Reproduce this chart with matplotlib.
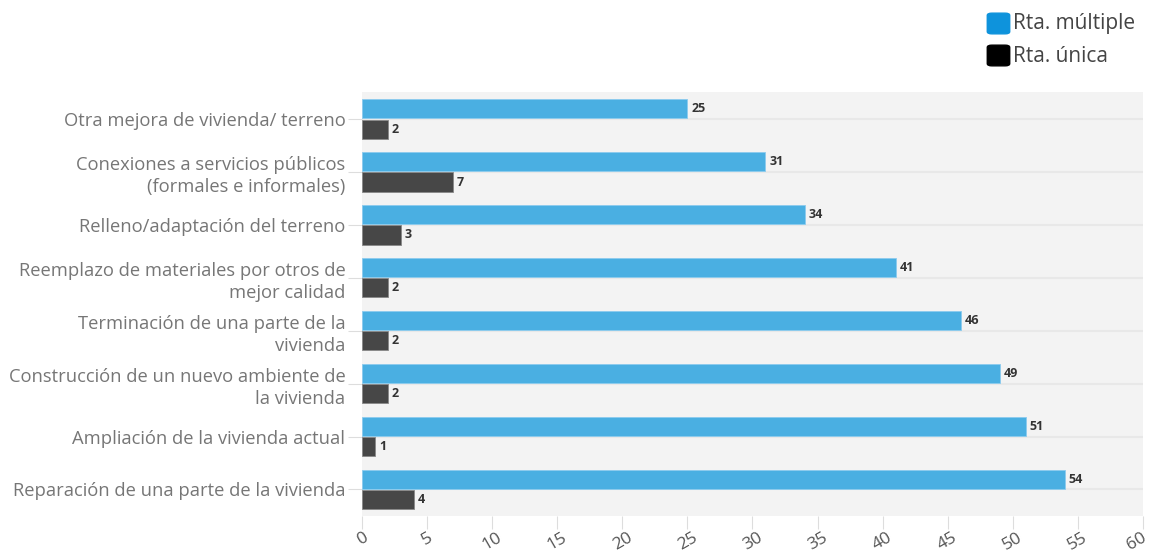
import matplotlib.pyplot as plt
import matplotlib.transforms as mtransforms
import numpy as np
from matplotlib.patches import FancyBboxPatch

categorias = [
    "Otra mejora de vivienda/ terreno",
    "Conexiones a servicios públicos\n(formales e informales)",
    "Relleno/adaptación del terreno",
    "Reemplazo de materiales por otros de\nmejor calidad",
    "Terminación de una parte de la\nvivienda",
    "Construcción de un nuevo ambiente de\nla vivienda",
    "Ampliación de la vivienda actual",
    "Reparación de una parte de la vivienda",
]
rta_multiple = [25, 31, 34, 41, 46, 49, 51, 54]
rta_unica = [2, 7, 3, 2, 2, 2, 1, 4]
ticks_x = list(range(0, 61, 5))

plt.rcParams['font.family'] = ['Open Sans', 'DejaVu Sans']

fig = plt.figure(figsize=(11.51, 5.59), dpi=100)
ax = fig.add_axes([0.3145, 0.077, 0.6785, 0.758])
ax.set_facecolor('#f3f3f3')

y = np.arange(len(categorias))
h = 0.36
ax.barh(y - 0.195, rta_multiple, height=h, color='#4aafe2', edgecolor='#8ccbee', linewidth=0.6, zorder=3)
ax.barh(y + 0.195, rta_unica, height=h, color='#474747', edgecolor='#888888', linewidth=0.6, zorder=3)

for yi, v in zip(y, rta_multiple):
    ax.text(v + 0.3, yi - 0.195, str(v), va='center', ha='left', fontsize=9,
            fontweight='bold', color='#333333', zorder=4)
for yi, v in zip(y, rta_unica):
    ax.text(v + 0.3, yi + 0.195, str(v), va='center', ha='left', fontsize=9,
            fontweight='bold', color='#333333', zorder=4)

ax.set_xlim(0, 60)
ax.set_ylim(len(categorias) - 0.5, -0.5)
ax.set_yticks(y)
ax.set_yticklabels(categorias, fontsize=13.2, color='#767676', linespacing=1.3)
ax.set_xticks(ticks_x)
ax.set_xticklabels([str(t) for t in ticks_x], fontsize=12.5, color='#555555', rotation=30,
                   ha='center', va='top')
ax.tick_params(axis='y', length=10, color='#dddddd', pad=2)
ax.tick_params(axis='x', length=9, color='#dddddd', pad=1, direction='out')
for s in ax.spines.values():
    s.set_visible(False)

# keep the last tick label inside the figure
ultimo = ax.get_xticklabels()[-1]
ultimo.set_transform(ultimo.get_transform() +
                     mtransforms.ScaledTranslation(-6 / 100, 0, fig.dpi_scale_trans))

# lines across each category, between its two bars
ax.set_axisbelow(True)
ax.grid(axis='y', color='#e8e8e8', linewidth=1.5, zorder=1)

# legend with rounded swatches
leyenda = [("Rta. múltiple", '#0e93dc'), ("Rta. única", '#000000')]
for i, (txt, col) in enumerate(leyenda):
    y0 = 1 - (13 + 32 * i) / 559
    sq = FancyBboxPatch((989 / 1151, y0 - 20 / 559), 19 / 1151, 19 / 559,
                        boxstyle='round,pad=0.0015,rounding_size=0.004',
                        transform=fig.transFigure, color=col, clip_on=False)
    fig.patches.append(sq)
    fig.text(1013 / 1151, y0 - 11 / 559, txt, fontsize=15, color='#444444',
             va='center', ha='left')

fig.savefig('out.png', dpi=100)
